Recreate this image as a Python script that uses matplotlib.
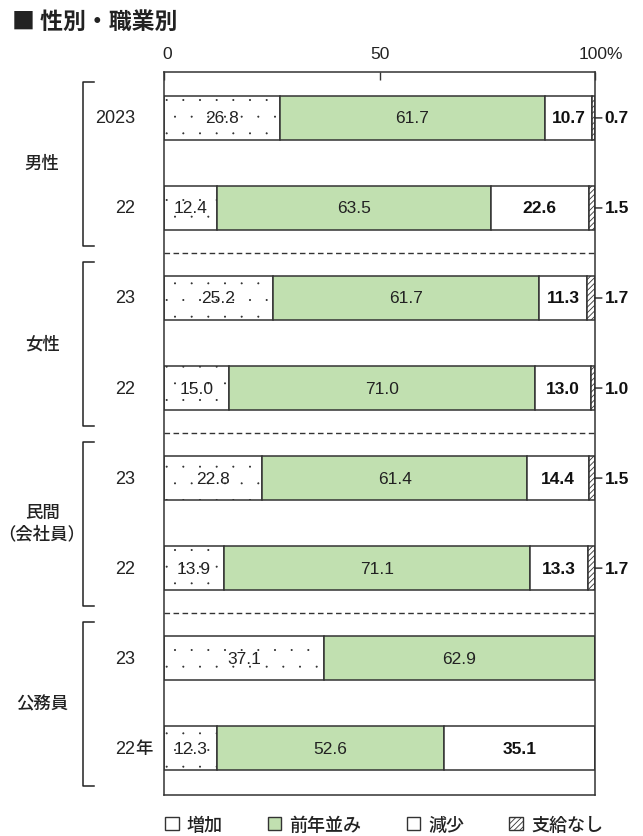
import matplotlib
matplotlib.use("Agg")
import matplotlib.pyplot as plt
import matplotlib.hatch as mhatch
from matplotlib.patches import Patch
from matplotlib.transforms import blended_transform_factory

plt.rcParams['font.family'] = ['Liberation Sans', 'Noto Sans CJK JP', 'DejaVu Sans']
plt.rcParams['hatch.linewidth'] = 0.6
mhatch.SmallFilledCircles.size = 0.035

# ---- data ----
groups = ["男性", "女性", "民間\n（会社員）", "公務員"]
years = ["2023", "22", "23", "22", "23", "22", "23", "22"]
series_names = ["増加", "前年並み", "減少", "支給なし"]
zouka = [26.8, 12.4, 25.2, 15.0, 22.8, 13.9, 37.1, 12.3]
zennen = [61.7, 63.5, 61.7, 71.0, 61.4, 71.1, 62.9, 52.6]
genshou = [10.7, 22.6, 11.3, 13.0, 14.4, 13.3, 0.0, 35.1]
nashi = [0.7, 1.5, 1.7, 1.0, 1.5, 1.7, 0.0, 0.0]
x_ticks = [0, 50, 100]
x_ticklabels = ["0", "50", "100%"]

EDGE = "#333333"
GREEN = "#c1e0b0"

fig = plt.figure(figsize=(6.43, 8.37), dpi=100)
ax = fig.add_axes([164/643, 41/837, (595-164)/643, (796-73)/837])

n = len(years)
ypos = list(range(n))
h = 0.49
lw = 1.1

ax.barh(ypos, zouka, height=h, color="white", edgecolor=EDGE, hatch=".", linewidth=lw)
left2 = zouka
ax.barh(ypos, zennen, left=left2, height=h, color=GREEN, edgecolor=EDGE, linewidth=lw)
left3 = [a + b for a, b in zip(zouka, zennen)]
ax.barh(ypos, genshou, left=left3, height=h, color="white", edgecolor=EDGE, linewidth=lw)
left4 = [a + b for a, b in zip(left3, genshou)]
ax.barh(ypos, nashi, left=left4, height=h, color="white", edgecolor=EDGE, hatch="//////", linewidth=lw)

fs = 12.5
for i in range(n):
    ax.text(zouka[i] / 2, i, f"{zouka[i]:.1f}", ha="center", va="center", fontsize=fs, color="#222")
    ax.text(left2[i] + zennen[i] / 2, i, f"{zennen[i]:.1f}", ha="center", va="center", fontsize=fs, color="#222")
    if genshou[i] > 0:
        ax.text(left3[i] + genshou[i] / 2, i, f"{genshou[i]:.1f}", ha="center", va="center",
                fontsize=fs, color="#111", fontweight="bold")
    if nashi[i] > 0:
        ax.annotate(f"{nashi[i]:.1f}", xy=(100, i), xytext=(7, 0), textcoords="offset points",
                    ha="left", va="center", fontsize=fs, color="#111", fontweight="bold",
                    arrowprops=dict(arrowstyle="-", shrinkA=0, shrinkB=0, color="#222", lw=1.0),
                    annotation_clip=False)

for yv in [1.5, 3.5, 5.5]:
    ax.axhline(yv, color=EDGE, lw=1.0, ls=(0, (4, 2.5)))

ax.set_xlim(0, 100)
ax.set_ylim(7.52, -0.51)
ax.set_yticks([])
ax.set_xticks(x_ticks)
ax.tick_params(axis="x", which="both", top=True, bottom=False, labeltop=False, labelbottom=False,
               direction="in", length=6, width=1.0, color=EDGE)
for s in ax.spines.values():
    s.set_color(EDGE)
    s.set_linewidth(1.1)

# top tick labels
offs = [2, 0, 4.5]
for xv, lab, o in zip(x_ticks, x_ticklabels, offs):
    ax.annotate(lab, xy=(xv, 1), xycoords=("data", "axes fraction"), xytext=(o, 13),
                textcoords="offset points", ha="center", va="center", fontsize=12.5, color="#222",
                annotation_clip=False)

# year labels
tr = blended_transform_factory(fig.transFigure, ax.transData)
for i, yl in enumerate(years):
    ax.text(135/643, i, yl, transform=tr, ha="right", va="center", fontsize=13, color="#222", clip_on=False)
ax.text(135/643, n - 1, "年", transform=tr, ha="left", va="center", fontsize=12.5, color="#222",
        clip_on=False, fontweight="medium")

# group brackets and labels
for g, name in enumerate(groups):
    y0 = 2 * g - 0.40
    y1 = 2 * g + 1.42
    xb, xt = 83/643, 94/643
    ax.plot([xt, xb, xb, xt], [y0, y0, y1, y1], transform=tr, color="#222", lw=1.1, clip_on=False)
    ax.text(42/643, 2 * g + 0.5, name, transform=tr, ha="center", va="center", fontsize=12.5,
            color="#222", fontweight="medium", linespacing=1.3, clip_on=False)

# title
fig.text(12/643, 1 - 22/837, "■ 性別・職業別", ha="left", va="center", fontsize=16.5,
         fontweight="bold", color="#222", family=["Noto Sans CJK JP"])

# legend
handles = [
    Patch(facecolor="white", edgecolor=EDGE, hatch=".", linewidth=1.0),
    Patch(facecolor=GREEN, edgecolor=EDGE, linewidth=1.0),
    Patch(facecolor="white", edgecolor=EDGE, linewidth=1.0),
    Patch(facecolor="white", edgecolor=EDGE, hatch="//////", linewidth=1.0),
]
leg = fig.legend(handles, series_names, loc="center left", bbox_to_anchor=(165/643, 11/837),
                 ncol=4, frameon=False, fontsize=13, handlelength=0.75, handleheight=0.75,
                 handletextpad=0.45, columnspacing=2.5, borderaxespad=0, borderpad=0)
for t in leg.get_texts():
    t.set_fontweight("medium")
    t.set_color("#222")

fig.savefig("out.png", dpi=100)
